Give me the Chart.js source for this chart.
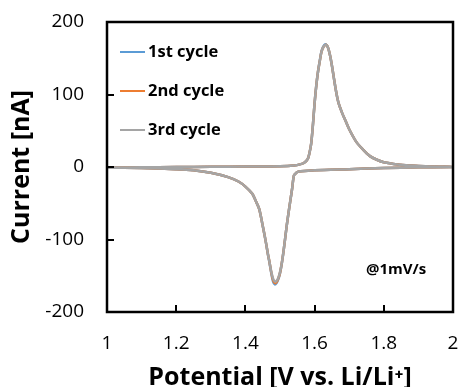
<!DOCTYPE html>
<html>
<head>
<meta charset="utf-8">
<script src="https://cdn.jsdelivr.net/npm/chart.js@4/dist/chart.umd.min.js"></script>
<style>
  html, body { margin: 0; padding: 0; background: #fff; }
  #wrap { width: 460px; height: 387px; position: relative; }
</style>
</head>
<body>
<div id="wrap"><canvas id="c" width="460" height="387"></canvas></div>
<script>
// ---- data ----
const seriesLabels = ['1st cycle', '2nd cycle', '3rd cycle'];
const seriesColors = ['#5B9BD5', '#ED7D31', '#A5A5A5'];

// potential sweep: anodic 1.0 -> 2.0 V, then cathodic 2.0 -> 1.0 V
const potential = [
  1.00,1.10,1.20,1.30,1.40,1.50,1.54,1.56,1.57,1.58,1.585,1.59,1.595,1.60,1.605,1.61,1.615,1.62,1.625,1.63,
  1.635,1.64,1.645,1.65,1.655,1.66,1.665,1.67,1.68,1.69,1.70,1.72,1.74,1.76,1.78,1.80,1.84,1.88,1.92,1.96,2.00,
  1.90,1.80,1.70,1.60,1.56,1.55,1.545,1.54,1.535,1.53,1.525,1.52,1.515,1.51,1.505,1.50,1.495,1.49,1.485,1.48,
  1.475,1.47,1.465,1.46,1.455,1.45,1.44,1.43,1.42,1.40,1.38,1.35,1.30,1.25,1.20,1.10,1.00
];

const current1st = [
  -1,-0.5,0,0.3,0.6,1,2,4,6,11,19,32,57,88,113,132,147,160,166,169,
  168,163,153,140,125,110,97,87,74,63,52,35,24,15,10,6.5,3.5,2,1,0.5,0,
  -0.5,-1.5,-3,-4.5,-6,-7,-9,-12,-30,-46,-62,-79,-98,-117,-134,-147,-155,-160,-162,-158,
  -147,-133,-120,-106,-93,-81,-58,-47,-37,-27,-20,-14,-8,-4.5,-3,-1.5,-0.5
];
const current2nd = [
  -1,-0.5,0,0.3,0.6,1,2,4,6,11,19,32,57,88,113,132,146,159,165,168,
  168,163,153,140,125,110,97,87,74,63,52,35,24,15,10,6.5,3.5,2,1,0.5,0,
  -0.5,-1.5,-3,-4.5,-6,-7,-9,-12,-30,-46,-62,-79,-98,-117,-133,-146,-154,-159,-160,-156,
  -146,-132,-120,-106,-93,-81,-58,-47,-37,-27,-20,-14,-8,-4.5,-3,-1.5,-0.5
];
const current3rd = [
  -1,-0.5,0,0.3,0.6,1,2,4,6,11,19,32,57,88,113,132,146,159,165,168,
  168,163,153,140,125,110,97,87,74,63,52,35,24,15,10,6.5,3.5,2,1,0.5,0,
  -0.5,-1.5,-3,-4.5,-6,-7,-9,-12,-30,-46,-62,-79,-98,-117,-133,-145,-153,-157,-158,-154,
  -145,-132,-120,-106,-93,-81,-58,-47,-37,-27,-20,-14,-8,-4.5,-3,-1.5,-0.5
];

const xTicks = [1, 1.2, 1.4, 1.6, 1.8, 2];
const xTickLabels = ['1', '1.2', '1.4', '1.6', '1.8', '2'];
const yTicks = [-200, -100, 0, 100, 200];
const yTickLabels = ['-200', '-100', '0', '100', '200'];
const xTitle = 'Potential [V vs. Li/Li\u207A]';
const yTitle = 'Current [nA]';
const noteText = '@1mV/s';

// ---- build ----
const allCurrents = [current1st, current2nd, current3rd];
const datasets = allCurrents.map((arr, i) => ({
  label: seriesLabels[i],
  data: potential.map((v, k) => ({ x: v, y: arr[k] })),
  borderColor: seriesColors[i],
  backgroundColor: seriesColors[i],
  borderWidth: 2.5,
  pointRadius: 0,
  showLine: true,
  tension: 0.3,
  fill: false,
  order: 3 - i
}));

const FONT = "'Open Sans', 'Liberation Sans', sans-serif";

const framePlugin = {
  id: 'frame',
  afterDatasetsDraw(chart) {
    const { ctx, chartArea: ca, scales } = chart;
    ctx.save();
    // inside tick marks
    ctx.strokeStyle = '#000';
    ctx.lineWidth = 2;
    const tl = 7;
    yTicks.forEach(v => {
      const y = Math.round(scales.y.getPixelForValue(v));
      ctx.beginPath(); ctx.moveTo(ca.left, y); ctx.lineTo(ca.left + tl, y); ctx.stroke();
    });
    xTicks.forEach(v => {
      const x = Math.round(scales.x.getPixelForValue(v));
      ctx.beginPath(); ctx.moveTo(x, ca.bottom); ctx.lineTo(x, ca.bottom - tl); ctx.stroke();
    });
    // box
    ctx.lineWidth = 2.5;
    ctx.strokeRect(ca.left, ca.top, ca.right - ca.left, ca.bottom - ca.top);

    // legend inside plot
    ctx.textBaseline = 'middle';
    ctx.textAlign = 'left';
    ctx.font = "bold 16.5px " + FONT;
    chart.data.datasets.forEach((ds, i) => {
      const y = ca.top + 30 + i * 39;
      ctx.strokeStyle = ds.borderColor;
      ctx.lineWidth = 2;
      ctx.beginPath(); ctx.moveTo(ca.left + 13, y); ctx.lineTo(ca.left + 38, y); ctx.stroke();
      ctx.fillStyle = '#000';
      ctx.fillText(ds.label, ca.left + 41, y);
    });
    // note
    ctx.font = "bold 15px " + FONT;
    ctx.fillText(noteText, ca.left + 259, ca.top + 248);
    ctx.restore();
  }
};

new Chart(document.getElementById('c'), {
  type: 'scatter',
  data: { datasets },
  options: {
    responsive: false,
    animation: false,
    layout: { padding: { top: 22, right: 7, left: 0, bottom: 0 } },
    plugins: { legend: { display: false }, tooltip: { enabled: false } },
    scales: {
      x: {
        type: 'linear', min: 1, max: 2,
        afterBuildTicks: s => { s.ticks = xTicks.map(v => ({ value: v })); },
        afterFit: s => { s.height = 75; s.paddingLeft = 0; s.paddingRight = 0; },
        grid: { display: false, drawTicks: false },
        border: { display: false },
        ticks: {
          padding: 20, color: '#000',
          font: { family: FONT, size: 19 },
          callback: (v) => xTickLabels[xTicks.indexOf(v)]
        },
        title: { display: true, text: xTitle, color: '#000', padding: { top: 0, bottom: -6 },
                 font: { family: FONT, size: 25, weight: 'bold' } }
      },
      y: {
        type: 'linear', min: -200, max: 200,
        afterBuildTicks: s => { s.ticks = yTicks.map(v => ({ value: v })); },
        afterFit: s => { s.width = 107; s.paddingTop = 0; s.paddingBottom = 0; },
        grid: { display: false, drawTicks: false },
        border: { display: false },
        ticks: {
          padding: 23, color: '#000',
          font: { family: FONT, size: 19 },
          callback: (v) => yTickLabels[yTicks.indexOf(v)]
        },
        title: { display: true, text: yTitle, color: '#000', padding: { top: 7, bottom: 0 },
                 font: { family: FONT, size: 25, weight: 'bold' } }
      }
    }
  },
  plugins: [framePlugin]
});
</script>
</body>
</html>
